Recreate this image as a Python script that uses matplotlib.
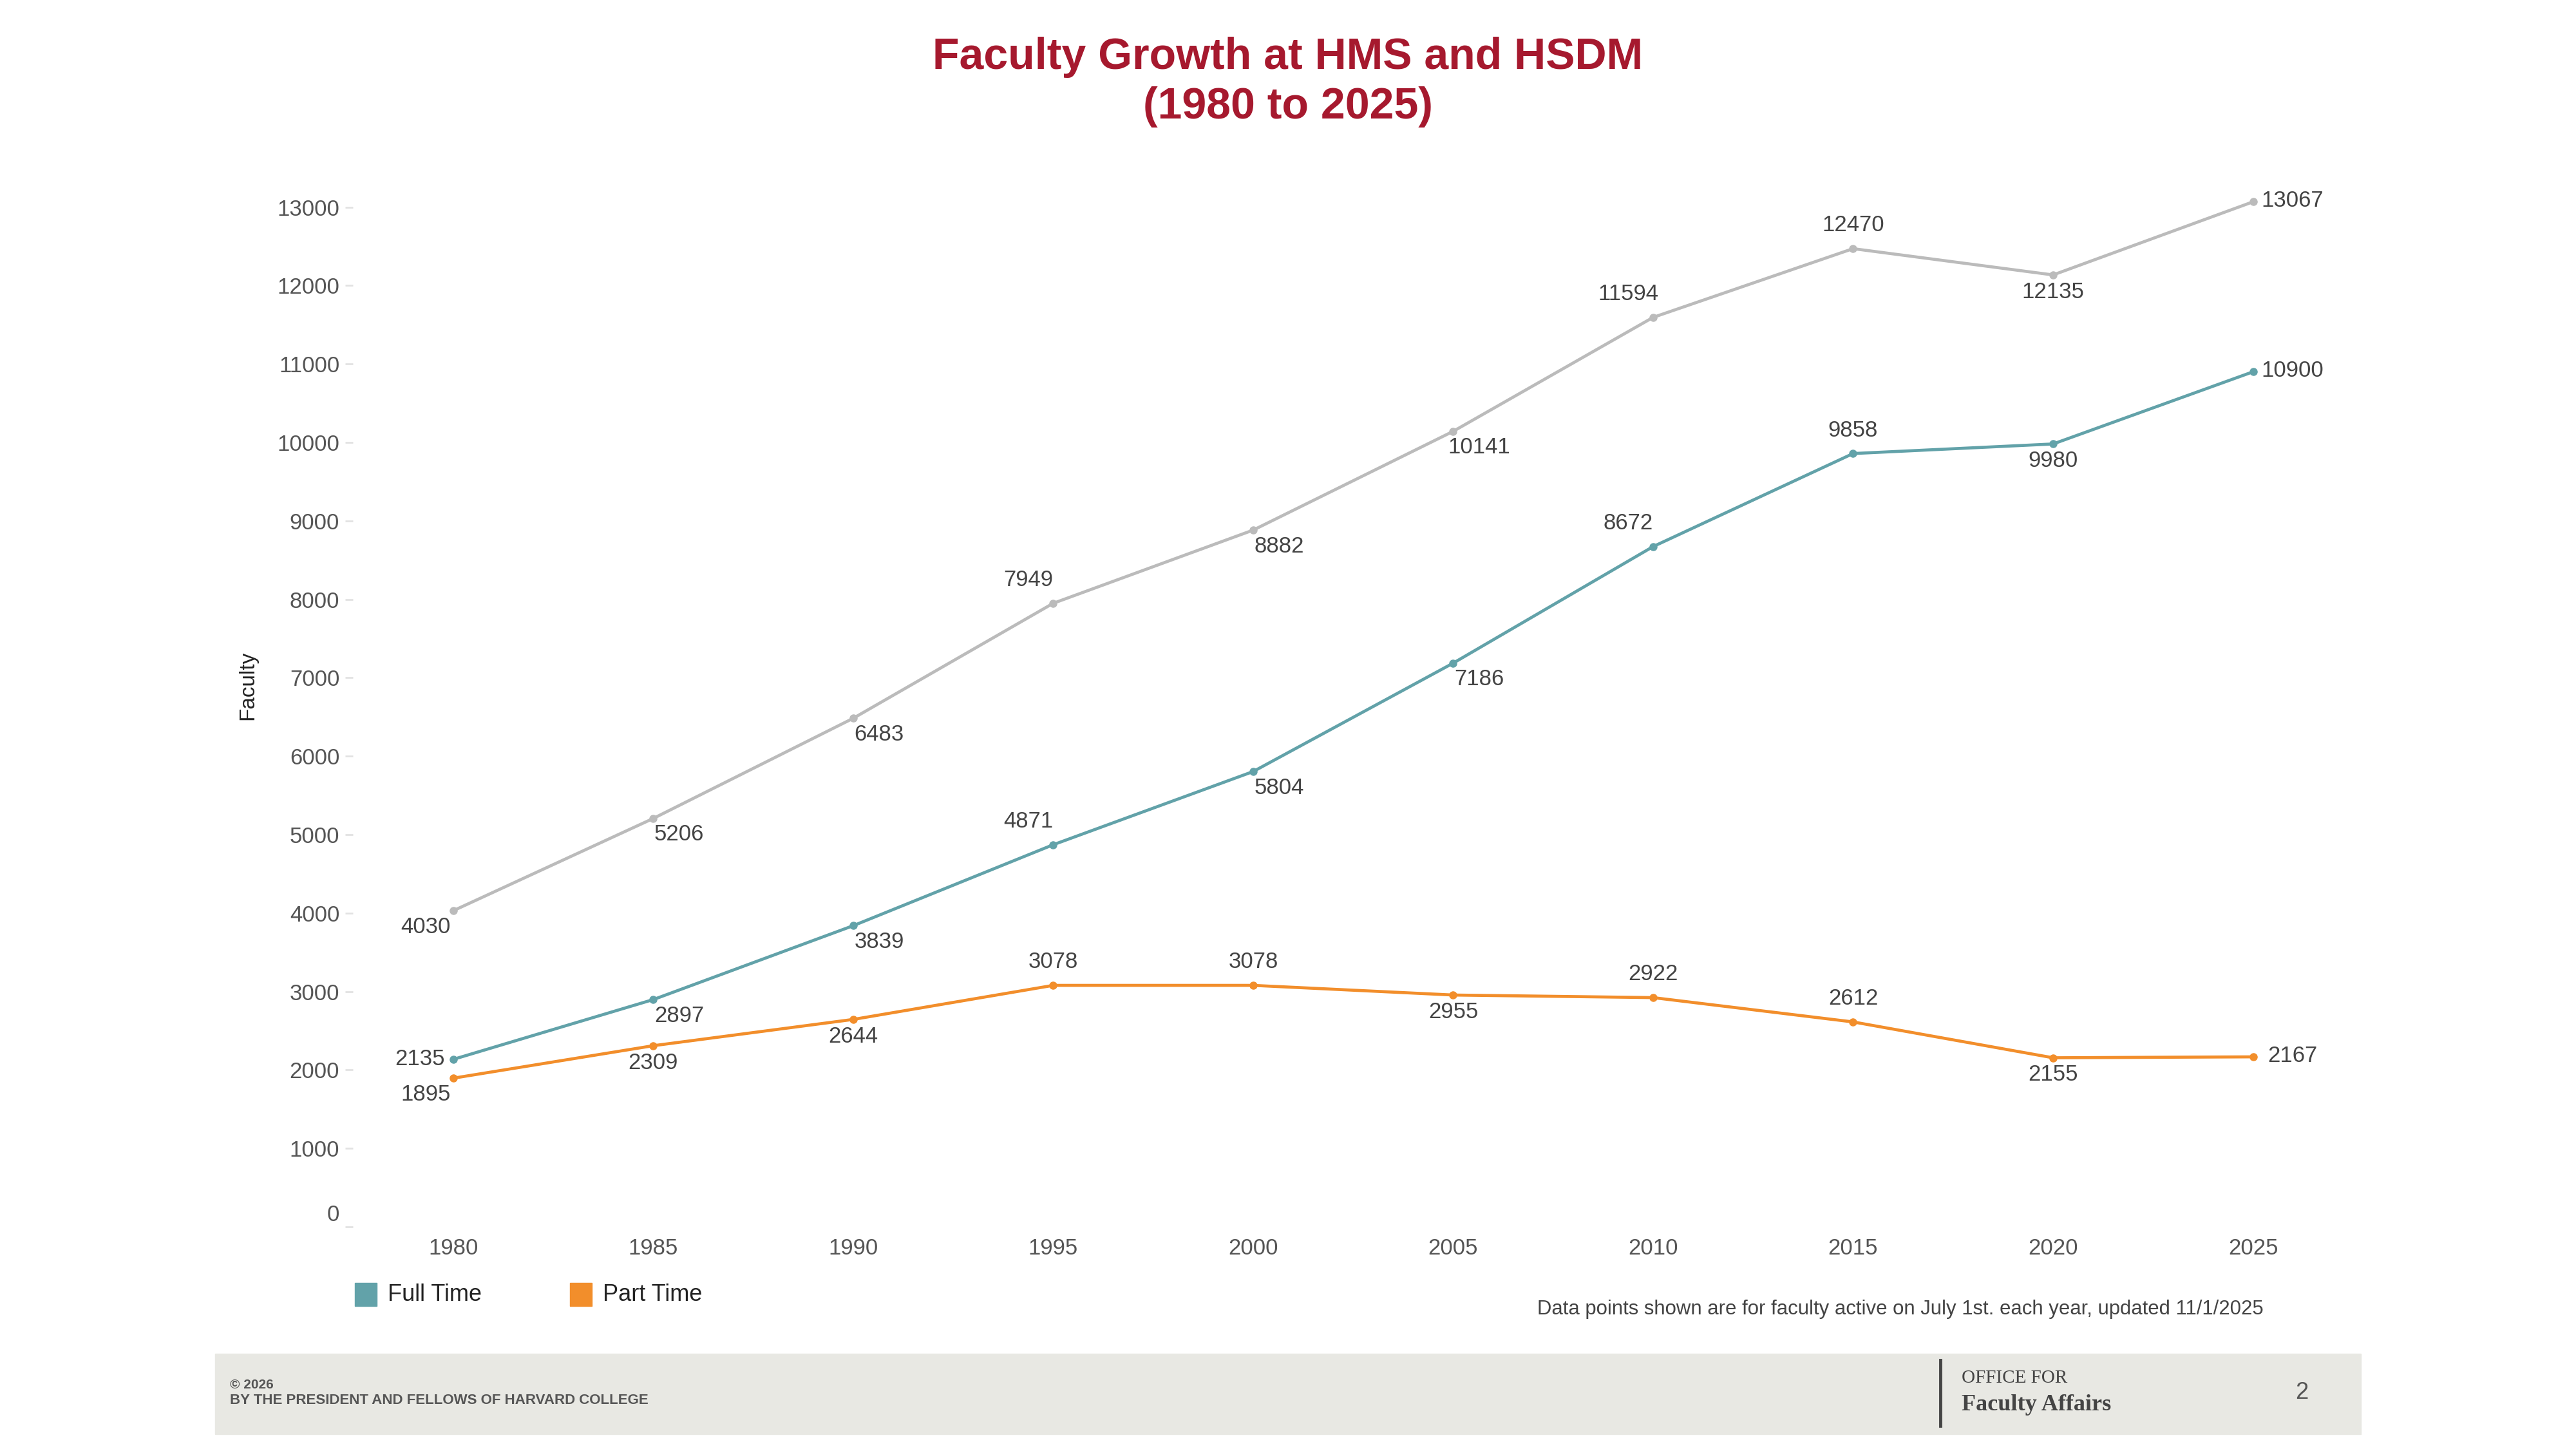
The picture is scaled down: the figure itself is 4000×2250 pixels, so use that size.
import matplotlib
matplotlib.use("Agg")
import matplotlib.pyplot as plt
import matplotlib.transforms as mtransforms
from matplotlib.patches import Rectangle

years = [1980, 1985, 1990, 1995, 2000, 2005, 2010, 2015, 2020, 2025]
total = [4030, 5206, 6483, 7949, 8882, 10141, 11594, 12470, 12135, 13067]
full_time = [2135, 2897, 3839, 4871, 5804, 7186, 8672, 9858, 9980, 10900]
part_time = [1895, 2309, 2644, 3078, 3078, 2955, 2922, 2612, 2155, 2167]
y_ticks = list(range(0, 14000, 1000))

# label placement codes (style only)
OFF = {'rb': (29, -18), 'la': (-28, 26), 'a': (0, 26), 'b': (0, -19),
       'r': (44, 1), 'l': (-37, 0), 'lb': (-31, -18)}
total_pos = ['lb', 'rb', 'rb', 'la', 'rb', 'rb', 'la', 'a', 'b', 'r']
full_pos = ['l', 'rb', 'rb', 'la', 'rb', 'rb', 'la', 'a', 'b', 'r']
part_pos = ['lb', 'b', 'b', 'a', 'a', 'b', 'a', 'a', 'b', 'r']

C_TOTAL = '#BBBBBB'
C_FULL = '#62A2A9'
C_PART = '#F28E2B'
C_TEXT = '#555555'
C_TITLE = '#A6192E'
FONT = 'Liberation Sans'
SERIF = ['Liberation Serif', 'DejaVu Serif']

plt.rcParams['font.family'] = [FONT, 'DejaVu Sans']

W, H = 4000, 2250
fig = plt.figure(figsize=(40, 22.5), dpi=100)
fig.patch.set_facecolor('white')

ax_l, ax_r, ax_t, ax_b = 548, 3660, 285, 1905
ax = fig.add_axes([ax_l / W, 1 - ax_b / H, (ax_r - ax_l) / W, (ax_b - ax_t) / H])
ax.set_xlim(1977.49, 2027.6)
ax.set_ylim(0, 13300)

for vals, col, pos in [(total, C_TOTAL, total_pos), (full_time, C_FULL, full_pos),
                       (part_time, C_PART, part_pos)]:
    ax.plot(years, vals, color=col, lw=3.4, marker='o', ms=8, solid_capstyle='round')
    for x, y, p in zip(years, vals, pos):
        ax.annotate(str(y), (x, y), xytext=OFF[p], textcoords='offset points',
                    ha='center', va='center', fontsize=25, color='#444444')

for s in ax.spines.values():
    s.set_visible(False)
ax.set_xticks(years)
ax.set_xticklabels([str(y) for y in years])
ax.set_yticks(y_ticks)
ax.set_yticklabels([str(v) for v in y_ticks])
ax.tick_params(axis='x', length=0, pad=12, labelsize=25, labelcolor=C_TEXT)
ax.tick_params(axis='y', length=9, width=2, color='#E2E2E2', pad=6, labelsize=25,
               labelcolor=C_TEXT)
# the "0" label sits slightly above its tick in the reference
zero_lab = ax.yaxis.get_major_ticks()[0].label1
zero_lab.set_transform(zero_lab.get_transform() +
                       mtransforms.ScaledTranslation(0, 16 / 72, fig.dpi_scale_trans))

# Y label
fig.text(385 / W, 1 - 1064 / H, 'Faculty', rotation=90, ha='center', va='center',
         fontsize=24, color='#222222')

# Title
fig.text(0.5, 1 - 89 / H, 'Faculty Growth at HMS and HSDM', ha='center', va='center',
         fontsize=49, fontweight='bold', color=C_TITLE)
fig.text(0.5, 1 - 166 / H, '(1980 to 2025)', ha='center', va='center',
         fontsize=49, fontweight='bold', color=C_TITLE)

# Legend
for x0, col, lab in [(551, C_FULL, 'Full Time'), (885, C_PART, 'Part Time')]:
    fig.patches.append(Rectangle((x0 / W, 1 - 2028 / H), 34 / W, 36 / H,
                                 transform=fig.transFigure, color=col))
    fig.text((x0 + 51) / W, 1 - 2010 / H, lab, ha='left', va='center',
             fontsize=26, color='#222222')

# Footnote
fig.text(3515 / W, 1 - 2033 / H,
         'Data points shown are for faculty active on July 1st. each year, updated 11/1/2025',
         ha='right', va='center', fontsize=22.4, color='#444444')

# Footer band
fig.patches.append(Rectangle((334 / W, 1 - 2227 / H), (3666 - 334) / W, (2227 - 2102) / H,
                             transform=fig.transFigure, color='#E8E8E3', zorder=0))
fig.text(357 / W, 1 - 2150 / H, '\u00a9 2026', ha='left', va='center', fontsize=15,
         fontweight='bold', color=C_TEXT)
fig.text(357 / W, 1 - 2174 / H, 'BY THE PRESIDENT AND FELLOWS OF HARVARD COLLEGE',
         ha='left', va='center', fontsize=16, fontweight='bold', color=C_TEXT)
fig.add_artist(plt.Line2D([3013 / W, 3013 / W], [1 - 2112 / H, 1 - 2214 / H],
                          transform=fig.transFigure, color='#444444', lw=3.5))
fig.text(3046 / W, 1 - 2140 / H, 'OFFICE FOR', ha='left', va='center', fontsize=21,
         family=SERIF, color='#444444')
fig.text(3046 / W, 1 - 2181 / H, 'Faculty Affairs', ha='left', va='center', fontsize=26,
         fontweight='bold', family=SERIF, color='#444444')
fig.text(3574 / W, 1 - 2163 / H, '2', ha='center', va='center', fontsize=26,
         color=C_TEXT)

fig.savefig('out.png', dpi=100)
